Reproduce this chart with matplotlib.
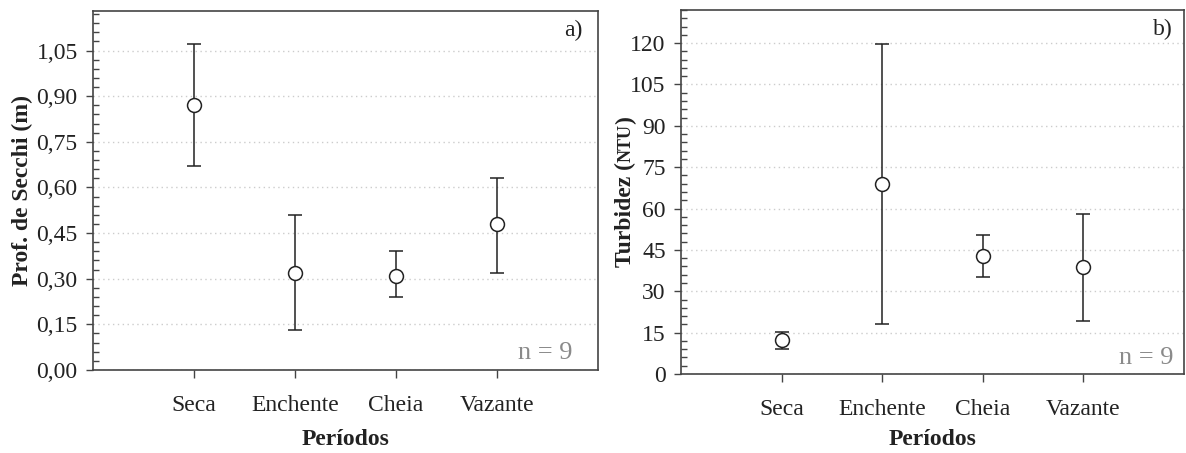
import matplotlib
matplotlib.use('Agg')
import matplotlib.pyplot as plt
from matplotlib.ticker import MultipleLocator, FuncFormatter

plt.rcParams['font.family'] = 'Liberation Serif'
plt.rcParams['font.size'] = 17

periodos = ['Seca', 'Enchente', 'Cheia', 'Vazante']

# Secchi depth (m): mean and interval limits
secchi_media = [0.87, 0.32, 0.31, 0.48]
secchi_sup = [1.07, 0.51, 0.39, 0.63]
secchi_inf = [0.67, 0.13, 0.24, 0.32]

# turbidity (NTU): mean and interval limits
turb_media = [12.4, 68.8, 42.7, 38.7]
turb_sup = [15.4, 119.5, 50.4, 58.1]
turb_inf = [9.1, 18.0, 35.0, 19.2]

W, H = 1186, 453
fig = plt.figure(figsize=(W / 100, H / 100), dpi=100, facecolor='white')

def px_axes(left, top, right, bottom):
    return fig.add_axes([left / W, 1 - bottom / H, (right - left) / W, (bottom - top) / H])

ax1 = px_axes(93, 11, 598, 370)
ax2 = px_axes(681, 10, 1184, 374)

spine_col = '#444444'
bar_col = '#222222'

def draw_panel(ax, media, sup, inf, ymax, step, fmt):
    x = range(len(periodos))
    err = [[m - lo for m, lo in zip(media, inf)], [hi - m for m, hi in zip(media, sup)]]
    ax.errorbar(x, media, yerr=err, fmt='o', color=bar_col, ecolor=bar_col,
                elinewidth=1.1, capsize=5, capthick=1.1, markersize=10,
                markerfacecolor='white', markeredgecolor=bar_col, markeredgewidth=1.1,
                zorder=3)
    ax.set_xlim(-1, 4)
    ax.set_ylim(0, ymax)
    ax.set_xticks(list(x))
    ax.set_xticklabels(periodos)
    ax.yaxis.set_major_locator(MultipleLocator(step))
    ax.yaxis.set_minor_locator(MultipleLocator(step / 5))
    ax.yaxis.set_major_formatter(FuncFormatter(fmt))
    ax.grid(axis='y', which='major', linestyle=(0, (1, 2.5)), color='#cccccc', linewidth=1)
    ax.set_axisbelow(True)
    for s in ax.spines.values():
        s.set_color(spine_col)
        s.set_linewidth(1.2)
    ax.tick_params(axis='x', which='major', direction='out', length=6, width=1,
                   color=spine_col, pad=12, labelcolor='#222222')
    ax.tick_params(axis='y', which='major', direction='out', length=5, width=1,
                   color=spine_col, pad=6, labelcolor='#222222')
    ax.tick_params(axis='y', which='minor', direction='in', length=4, width=1,
                   color=spine_col)
    ax.set_xlabel('Períodos', fontweight='bold', color='#222222')

draw_panel(ax1, secchi_media, secchi_sup, secchi_inf, 1.18, 0.15,
           lambda v, p: f'{v:.2f}'.replace('.', ','))
draw_panel(ax2, turb_media, turb_sup, turb_inf, 132, 15,
           lambda v, p: f'{v:.0f}')

ax1.xaxis.set_label_coords(0.5, -0.163)
ax2.xaxis.set_label_coords(0.5, -0.15)

ax1.set_ylabel('Prof. de Secchi (m)', fontweight='bold', color='#222222')
ax1.yaxis.set_label_coords(-0.118, 0.5)

ax1.text(0.970, 0.975, 'a)', transform=ax1.transAxes, ha='right', va='top', color='#222222')
ax2.text(0.978, 0.975, 'b)', transform=ax2.transAxes, ha='right', va='top', color='#222222')
ax1.text(0.95, 0.03, 'n = 9', transform=ax1.transAxes, ha='right', va='baseline',
         fontsize=19, color='#8a8a8a')
ax2.text(0.98, 0.027, 'n = 9', transform=ax2.transAxes, ha='right', va='baseline',
         fontsize=19, color='#8a8a8a')

# y label of panel b with the unit in smaller type, stacked along the baseline
pieces = [('Turbidez (', 17), ('NTU', 13), (')', 17)]
renderer = fig.canvas.get_renderer()
base_x = 631 / W
texts = []
for s, size in pieces:
    t = fig.text(base_x, 0, s, rotation=90, rotation_mode='anchor', ha='left',
                 va='baseline', fontsize=size, fontweight='bold', color='#222222')
    texts.append(t)
lengths = [t.get_window_extent(renderer).height for t in texts]
total = sum(lengths)
y = (H - 192) - total / 2
for t, L in zip(texts, lengths):
    t.set_position((base_x, y / H))
    y += L

fig.savefig('out.png', dpi=100, facecolor='white')
